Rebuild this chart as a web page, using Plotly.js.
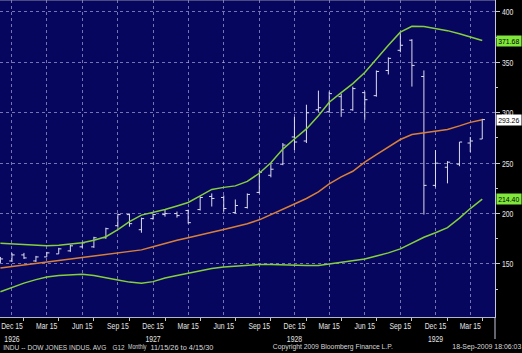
<!DOCTYPE html>
<html>
<head>
<meta charset="utf-8">
<script src="https://cdn.plot.ly/plotly-3.0.1.min.js"></script>
<style>
html,body{margin:0;padding:0;background:#000;}
#chart{width:522px;height:353px;}
</style>
</head>
<body>
<div id="chart"></div>
<script>
// Monthly bars, dated on the 15th
var dates = ['1926-11-15','1926-12-15','1927-01-15','1927-02-15','1927-03-15','1927-04-15','1927-05-15','1927-06-15','1927-07-15','1927-08-15','1927-09-15','1927-10-15','1927-11-15','1927-12-15','1928-01-15','1928-02-15','1928-03-15','1928-04-15','1928-05-15','1928-06-15','1928-07-15','1928-08-15','1928-09-15','1928-10-15','1928-11-15','1928-12-15','1929-01-15','1929-02-15','1929-03-15','1929-04-15','1929-05-15','1929-06-15','1929-07-15','1929-08-15','1929-09-15','1929-10-15','1929-11-15','1929-12-15','1930-01-15','1930-02-15','1930-03-15','1930-04-15'];
var openV  = [153,153,159,153,157,160,163,167,167,176,188,199,184,195,199,200,203,204,217,216,201,206,221,238,249,276,272,303,301,316,303,320,317,342,362,372,336,228,246,249,270,274];
var highV  = [157,161,161,158,162,166,169,172,177,186,200,200,196,200,204,202,204,217,220,218,214,220,243,250,270,296,308,322,321,319,326,321,342,355,379,373,342,263,252,271,276,294];
var lowV   = [151,152,155,152,157,160,162,166,166,175,186,187,181,194,197,196,190,203,207,202,200,205,220,236,248,263,270,301,300,296,302,293,316,338,360,326,199,226,230,247,261,274];
var closeV = [155,159,156,157,161,165,168,171,176,185,199,190,195,199,200,198,191,216,215,205,208,219,241,244,268,271,300,305,319,303,324,313,341,354,367,347,228,250,251,271,272,293.26];
// Bollinger bands
var upperBand = [170.5,170,169.3,168.5,168,168.5,169.5,171,173.5,177,184,192,198.5,201,204,207.5,211,217.5,224,226,227.5,232,240,250.5,264,274,284,297,310.5,320,329,340,353.5,367,380,385.8,385.5,383.5,381.5,378.5,375.5,371.68];
var midBand   = [146,147.5,149,150.5,152,153.5,155,156.5,158,159.5,161,162.5,164,167,170.5,173.5,176,178.5,181.5,184.3,187,190,193.8,198.8,204.5,209.5,215,221.5,229.5,236.5,242,251,258.5,266,273.5,278.5,280.3,281.8,283.5,287,290.5,293.04];
var lowerBand = [122.5,127,131,134.5,137,138.5,139.5,139.8,138.5,136,134,132,130.8,132.5,136,138.5,141,143.5,145.5,147,148,149,149.5,149.5,149,149,148.5,148.5,150,151,153,155,158,161,165,171,176.5,181,186,195.5,205,214.40];
// Axis labels
var xTickVals = ['1926-12-15','1927-03-15','1927-06-15','1927-09-15','1927-12-15','1928-03-15','1928-06-15','1928-09-15','1928-12-15','1929-03-15','1929-06-15','1929-09-15','1929-12-15','1930-03-15'];
var xTickText = ['Dec 15<br>1926','Mar 15','Jun 15','Sep 15','Dec 15<br>1927','Mar 15','Jun 15','Sep 15','Dec 15<br>1928','Mar 15','Jun 15','Sep 15','Dec 15<br>1929','Mar 15'];
var xMinorVals = ['1927-01-15','1927-04-15','1927-07-15','1927-10-15','1928-01-15','1928-04-15','1928-07-15','1928-10-15','1929-01-15','1929-04-15','1929-07-15','1929-10-15','1930-01-15','1930-04-15'];
var yTickVals = [150,200,250,300,350,400];
var yMinorVals = [125,175,225,275,325,375];
// Footer texts
var footerTexts = ['INDU -- DOW JONES INDUS. AVG','G12','Monthly','11/15/26 to 4/15/30','Copyright 2009 Bloomberg Finance L.P.','18-Sep-2009 18:06:03'];

// layout / style (pixel geometry of the reference)
var FOOT_CENTER = [55, 118.8, 137.8, 182.2, 333, 487];
var FOOT_WIDTH  = [103, 12, 18.5, 63, 120, 69];
var FONT = 'Liberation Sans, Arial, sans-serif';
var GREEN = '#86cf3c';
var ORANGE = '#d8803a';
var CONDENSE = 0.72;
var LABEL_W = 21;

var traces = [
  {type:'scatter', mode:'lines', x:dates, y:lowerBand, line:{color:GREEN, width:1.5}, hoverinfo:'skip'},
  {type:'scatter', mode:'lines', x:dates, y:midBand, line:{color:ORANGE, width:1.5}, hoverinfo:'skip'},
  {type:'scatter', mode:'lines', x:dates, y:upperBand, line:{color:GREEN, width:1.5}, hoverinfo:'skip'},
  {type:'ohlc', x:dates, open:openV, high:highV, low:lowV, close:closeV, tickwidth:0.25,
   increasing:{line:{color:'#dcdcf0', width:1}}, decreasing:{line:{color:'#dcdcf0', width:1}}}
];

var n = dates.length - 1;
var targetWidth = {};
function lastLabel(val, bg) {
  var t = val.toFixed(2);
  targetWidth[t] = LABEL_W;
  return {xref:'paper', x:496/495, xanchor:'left', yref:'y', y:val, yanchor:'middle',
    width:24, height:10, align:'center',
    text:t, showarrow:false, bgcolor:bg, borderpad:0,
    font:{family:FONT, size:8, color:'#000'}};
}
var annotations = [
  lastLabel(upperBand[n], '#7fe83a'),
  lastLabel(closeV[n], '#ffffff'),
  lastLabel(lowerBand[n], '#7fe83a')
];
footerTexts.forEach(function(t, k){
  targetWidth[t] = FOOT_WIDTH[k];
  annotations.push({xref:'paper', x:FOOT_CENTER[k]/495, xanchor:'center', yref:'paper', y:-30/317, yanchor:'middle',
    text:t, showarrow:false, borderpad:0, font:{family:FONT, size:7, color:'#d8d8d8'}});
});

var layout = {
  width:522, height:353,
  margin:{l:0, r:27, t:0, b:36, pad:0},
  paper_bgcolor:'#000000',
  plot_bgcolor:'#06065e',
  showlegend:false,
  xaxis:{
    type:'date', range:['1926-11-14','1930-05-18'],
    tickmode:'array', tickvals:xTickVals, ticktext:xTickText,
    tickfont:{family:FONT, size:9.5, color:'#e4e4e4'},
    ticklabeloverflow:'allow',
    ticks:'', showgrid:true, gridcolor:'rgba(190,190,235,0.6)', griddash:'dot', gridwidth:1,
    showline:true, linecolor:'#b4b4c8', linewidth:1, zeroline:false,
    rangeslider:{visible:false}, fixedrange:true,
    minor:{tickmode:'array', tickvals:xMinorVals, ticks:'outside', ticklen:3, tickcolor:'#c8c8c8', showgrid:false}
  },
  yaxis:{
    side:'right', range:[97.4, 411.9],
    tickmode:'array', tickvals:yTickVals,
    tickfont:{family:FONT, size:9.5, color:'#e8e8e8'},
    ticklabeloverflow:'allow',
    ticks:'outside', ticklen:4, tickcolor:'#c8c8d8',
    showgrid:true, gridcolor:'rgba(190,190,235,0.6)', griddash:'dot', gridwidth:1,
    showline:true, linecolor:'#c8c8dc', linewidth:1, zeroline:false, fixedrange:true,
    minor:{tickmode:'array', tickvals:yMinorVals, ticks:'outside', ticklen:2, tickcolor:'#c8c8d8', showgrid:false}
  },
  shapes:[
    {type:'line', xref:'paper', yref:'paper', x0:1, x1:1, y0:0, y1:-22/317, line:{color:'#c8c8dc', width:1}},
    {type:'line', xref:'paper', yref:'paper', x0:0, x1:1, y0:1, y1:1, line:{color:'#9090a8', width:1}}
  ],
  annotations:annotations
};

// Bloomberg uses a condensed face: squeeze texts horizontally around their anchor
function condense(k) {
  document.querySelectorAll('#chart svg text').forEach(function(t){
    var lines = t.querySelectorAll('tspan.line');
    var targets = lines.length ? Array.prototype.slice.call(lines) : [t];
    targets.forEach(function(el){
      var L = el.getComputedTextLength();
      if (L <= 0) return;
      var want = targetWidth.hasOwnProperty(el.textContent) ? targetWidth[el.textContent] : L * k;
      el.setAttribute('textLength', want.toFixed(2));
      el.setAttribute('lengthAdjust', 'spacingAndGlyphs');
    });
  });
}

Plotly.newPlot('chart', traces, layout, {staticPlot:true, displayModeBar:false}).then(function(){
  condense(CONDENSE);
});
</script>
</body>
</html>
